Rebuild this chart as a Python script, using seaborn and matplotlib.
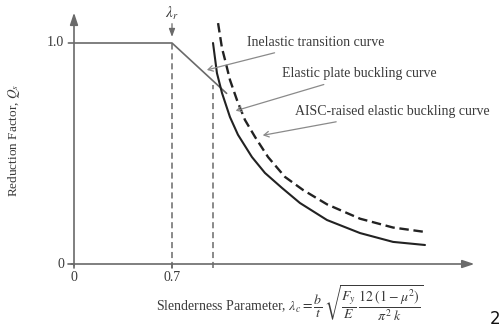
import matplotlib
matplotlib.use("Agg")
import matplotlib.pyplot as plt
import seaborn as sns

# ---- data ----
lam_transition = [-0.04, 0.7, 1.09]
q_transition = [1.0, 1.0, 0.772]

lam_elastic = [0.993, 1.021, 1.057, 1.114, 1.171, 1.271, 1.364, 1.486, 1.614,
               1.807, 2.043, 2.279, 2.507]
q_elastic = [1.0, 0.864, 0.774, 0.665, 0.585, 0.484, 0.412, 0.344, 0.276,
             0.199, 0.140, 0.100, 0.086]

lam_aisc = [1.029, 1.057, 1.079, 1.114, 1.164, 1.221, 1.293, 1.386, 1.507,
            1.636, 1.807, 2.043, 2.279, 2.507]
q_aisc = [1.09, 0.977, 0.923, 0.833, 0.742, 0.652, 0.575, 0.484, 0.394,
          0.335, 0.27, 0.205, 0.165, 0.145]

lam_r = 0.7
lam_limit = 0.993
x_tick_vals = [0, 0.7]
x_tick_labels = ["0", "0.7"]
y_tick_vals = [0, 1.0]
y_tick_labels = ["0", "1.0"]

sns.set_theme(style="white")
plt.rcParams["font.family"] = ["Liberation Serif", "DejaVu Serif"]
plt.rcParams["mathtext.fontset"] = "stix"

W, H = 504, 330
fig = plt.figure(figsize=(W / 100, H / 100), dpi=100)
ax = fig.add_axes([0, 0, 1, 1])
x0px, y0px, sx, sy = 74, 264, 140, 221
ax.set_xlim(-x0px / sx, (W - x0px) / sx)
ax.set_ylim(-(H - y0px) / sy, y0px / sy)
ax.axis("off")

txt = "#3a3a3a"
grey = "#6a6a6a"

# axes with arrows
ax.annotate("", xy=(0, 1.15), xytext=(0, -0.02),
            arrowprops=dict(arrowstyle="-|>,head_length=0.6,head_width=0.2", color=grey, lw=1.2))
ax.annotate("", xy=(2.88, 0), xytext=(-0.04, 0),
            arrowprops=dict(arrowstyle="-|>,head_length=0.6,head_width=0.2", color=grey, lw=1.2))

# ticks
for xv in x_tick_vals:
    ax.plot([xv, xv], [-0.02, 0], color=grey, lw=1.2)
ax.plot([-0.04, 0], [0, 0], color=grey, lw=1.2)
for xv, lab in zip(x_tick_vals, x_tick_labels):
    ax.text(xv, -0.06, lab, ha="center", va="center", fontsize=10, color=txt)
for yv, lab in zip(y_tick_vals, y_tick_labels):
    ax.text(-0.07, yv, lab, ha="right", va="center", fontsize=10, color=txt)

# vertical dashed guide lines
ax.plot([lam_r, lam_r], [-0.02, 1.0], color=grey, lw=1.1, ls=(0, (4, 2.5)))
ax.plot([lam_limit, lam_limit], [-0.02, 0.81], color=grey, lw=1.1, ls=(0, (4, 2.5)))

# curves
sns.lineplot(x=lam_transition, y=q_transition, ax=ax, color=grey, lw=1.2,
             sort=False, estimator=None)
sns.lineplot(x=lam_elastic, y=q_elastic, ax=ax, color="#222222", lw=1.5,
             sort=False, estimator=None)
sns.lineplot(x=lam_aisc, y=q_aisc, ax=ax, color="#222222", lw=1.7,
             sort=False, estimator=None, dashes=False, linestyle=(0, (4, 2)))

# lambda_r marker
ax.text(lam_r, 1.135, r"$\lambda_r$", ha="center", va="center", fontsize=11, color=txt)
ax.annotate("", xy=(lam_r, 1.015), xytext=(lam_r, 1.10),
            arrowprops=dict(arrowstyle="-|>,head_length=0.4,head_width=0.15", color=grey, lw=0.9))

# annotations
ann = dict(arrowstyle="->,head_length=0.35,head_width=0.2", color="#8a8a8a", lw=0.9)
ax.annotate("Inelastic transition curve", xy=(0.93, 0.875), xytext=(1.237, 1.003),
            fontsize=10, color=txt, ha="left", va="center", arrowprops=ann)
ax.annotate("Elastic plate buckling curve", xy=(1.136, 0.69), xytext=(1.486, 0.86),
            fontsize=10, color=txt, ha="left", va="center", arrowprops=ann)
ax.annotate("AISC-raised elastic buckling curve", xy=(1.329, 0.58), xytext=(1.576, 0.69),
            fontsize=10, color=txt, ha="left", va="center", arrowprops=ann)

# axis labels
ax.text(-0.43, 0.56, r"Reduction Factor, $Q_s$", rotation=90, ha="center", va="center",
        fontsize=9.5, color=txt)
ax.text(1.545, -0.175,
        r"Slenderness Parameter, $\lambda_c = \dfrac{b}{t}\,\sqrt{\dfrac{F_y}{E}\,\dfrac{12\;(1-\mu^2)}{\pi^2\;k}}$",
        ha="center", va="center", fontsize=10, color=txt)

fig.text(500 / W, 1 - 328 / H, "2", ha="right", va="bottom", fontsize=12,
         color="#111111", family="DejaVu Sans")

fig.savefig("out.png", dpi=100)
